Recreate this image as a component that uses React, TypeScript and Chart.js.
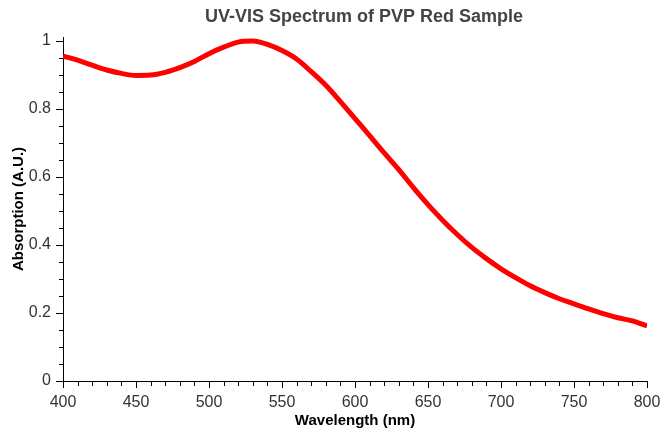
import { useEffect, useRef } from 'react';
import { Chart, registerables, type ChartConfiguration, type Plugin } from 'chart.js';

Chart.register(...registerables);

const wavelengths = [
  400, 410, 420, 430, 440, 450, 460, 470, 480, 490,
  500, 510, 520, 530, 540, 550, 560, 570, 580, 590,
  600, 610, 620, 630, 640, 650, 660, 670, 680, 690,
  700, 710, 720, 730, 740, 750, 760, 770, 780, 790, 800,
];
const absorption = [
  0.956, 0.944, 0.929, 0.915, 0.905, 0.899, 0.9, 0.908, 0.922, 0.94,
  0.963, 0.982, 0.997, 1.0, 0.99, 0.972, 0.947, 0.91, 0.87, 0.822,
  0.772, 0.722, 0.671, 0.622, 0.569, 0.519, 0.473, 0.431, 0.393, 0.36,
  0.33, 0.304, 0.28, 0.26, 0.242, 0.227, 0.212, 0.198, 0.186, 0.177, 0.162,
];

const xMajorTicks = [400, 450, 500, 550, 600, 650, 700, 750, 800];
const xMinorTicks = [
  410, 420, 430, 440, 460, 470, 480, 490, 510, 520, 530, 540, 560, 570, 580, 590,
  610, 620, 630, 640, 660, 670, 680, 690, 710, 720, 730, 740, 760, 770, 780, 790,
];
const yMajorTicks = [0, 0.2, 0.4, 0.6, 0.8, 1];
const yMinorTicks = [0.05, 0.1, 0.15, 0.25, 0.3, 0.35, 0.45, 0.5, 0.55, 0.65, 0.7, 0.75, 0.85, 0.9, 0.95];

const TITLE = 'UV-VIS Spectrum of PVP Red Sample';
const FONT = 'Helvetica, Arial, "Liberation Sans", sans-serif';

// minor ticks drawn outside the plot, same style as the major ones but shorter
const minorTicks: Plugin<'line'> = {
  id: 'minorTicks',
  afterDraw(chart) {
    const { ctx } = chart;
    const x = chart.scales.x;
    const y = chart.scales.y;
    ctx.save();
    ctx.strokeStyle = '#000';
    ctx.lineWidth = 1;
    ctx.beginPath();
    xMinorTicks.forEach((v) => {
      const px = Math.round(x.getPixelForValue(v)) + 0.5;
      ctx.moveTo(px, x.top);
      ctx.lineTo(px, x.top + 5);
    });
    yMinorTicks.forEach((v) => {
      const py = Math.round(y.getPixelForValue(v)) + 0.5;
      ctx.moveTo(y.right, py);
      ctx.lineTo(y.right - 4, py);
    });
    ctx.stroke();
    ctx.restore();
  },
};

const titleText: Plugin<'line'> = {
  id: 'titleText',
  afterDraw(chart) {
    const { ctx } = chart;
    ctx.save();
    ctx.font = `bold 18px ${FONT}`;
    ctx.fillStyle = '#444';
    ctx.textAlign = 'center';
    ctx.textBaseline = 'middle';
    ctx.fillText(TITLE, 364, 17);
    ctx.restore();
  },
};

export default function App() {
  const canvasRef = useRef<HTMLCanvasElement>(null);
  const chartRef = useRef<Chart | null>(null);

  useEffect(() => {
    if (!canvasRef.current) return;

    const config: ChartConfiguration<'line'> = {
      type: 'line',
      data: {
        labels: wavelengths,
        datasets: [
          {
            data: absorption,
            borderColor: '#ff0000',
            borderWidth: 5,
            pointRadius: 0,
            cubicInterpolationMode: 'monotone',
            fill: false,
          },
        ],
      },
      options: {
        animation: false,
        responsive: false,
        maintainAspectRatio: false,
        layout: { padding: { top: 37, right: 22, bottom: 0, left: 0 } },
        plugins: {
          legend: { display: false },
          tooltip: { enabled: false },
          title: { display: false },
        },
        scales: {
          x: {
            type: 'linear',
            min: 400,
            max: 800,
            afterFit: (s) => { s.height = 55; },
            afterBuildTicks: (s) => { s.ticks = xMajorTicks.map((value) => ({ value })); },
            grid: { display: true, drawOnChartArea: false, drawTicks: true, tickLength: 7, color: '#000' },
            border: { display: true, color: '#000', width: 1 },
            ticks: {
              color: '#333',
              font: { family: FONT, size: 16 },
              padding: 5,
              maxRotation: 0,
              autoSkip: false,
            },
            title: {
              display: true,
              text: 'Wavelength (nm)',
              color: '#000',
              font: { family: FONT, size: 15, weight: 'bold' },
              padding: { top: 0, bottom: 6 },
            },
          },
          y: {
            type: 'linear',
            min: 0,
            max: 1.012,
            afterFit: (s) => { s.width = 63; },
            afterBuildTicks: (s) => { s.ticks = yMajorTicks.map((value) => ({ value })); },
            grid: { display: true, drawOnChartArea: false, drawTicks: true, tickLength: 7, color: '#000' },
            border: { display: true, color: '#000', width: 1 },
            ticks: {
              color: '#333',
              font: { family: FONT, size: 16 },
              padding: 5,
              autoSkip: false,
              callback: (v) => String(v),
            },
            title: {
              display: true,
              text: 'Absorption (A.U.)',
              color: '#000',
              font: { family: FONT, size: 15, weight: 'bold' },
              padding: { top: 10, bottom: 0 },
            },
          },
        },
      },
      plugins: [minorTicks, titleText],
    };

    chartRef.current = new Chart(canvasRef.current, config);
    return () => { chartRef.current?.destroy(); chartRef.current = null; };
  }, []);

  return (
    <div style={{ position: 'absolute', left: 0, top: 0, width: 669, height: 436, background: '#fff' }}>
      <canvas ref={canvasRef} width={669} height={436} style={{ width: 669, height: 436 }} aria-label={TITLE} role="img" />
    </div>
  );
}
